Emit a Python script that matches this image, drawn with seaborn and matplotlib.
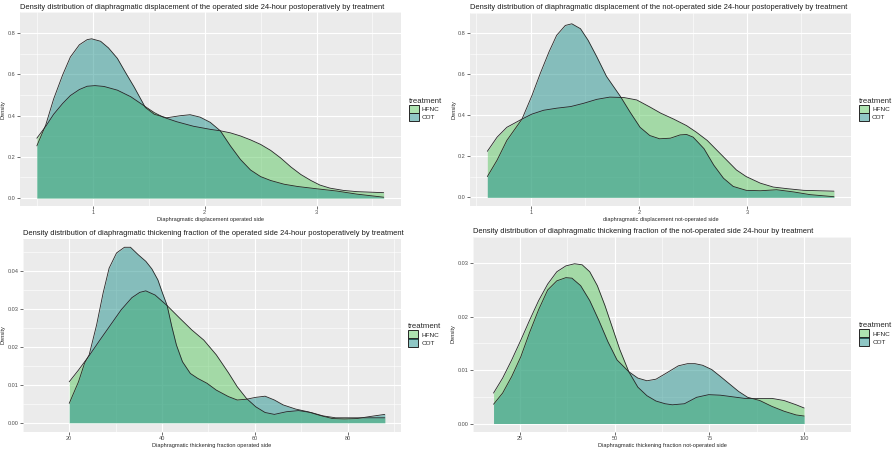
import matplotlib
matplotlib.use("Agg")
import matplotlib.pyplot as plt
import seaborn as sns
from matplotlib.patches import Patch
from matplotlib.colors import to_rgba

# ==========================================
# DATA (density curves)
# ==========================================
treatments = ["HFNC", "COT"]
fill_colors = {"HFNC": "#5DC863", "COT": "#21918C"}

# top-left: displacement, operated side
tl_hfnc_x = [0.50, 0.58, 0.65, 0.73, 0.80, 0.88, 0.95, 1.02, 1.10, 1.22, 1.34, 1.47, 1.55, 1.63, 1.75, 1.90,
             2.05, 2.14, 2.23, 2.32, 2.41, 2.50, 2.59, 2.68, 2.77, 2.86, 2.95, 3.03, 3.12, 3.24, 3.36, 3.60]
tl_hfnc_y = [0.290, 0.348, 0.406, 0.458, 0.497, 0.526, 0.542, 0.545, 0.541, 0.523, 0.491, 0.443, 0.414, 0.392,
             0.370, 0.348, 0.333, 0.326, 0.316, 0.301, 0.282, 0.260, 0.231, 0.194, 0.151, 0.114, 0.085, 0.063,
             0.048, 0.037, 0.031, 0.026]
tl_cot_x = [0.50, 0.58, 0.65, 0.73, 0.80, 0.88, 0.95, 0.99, 1.07, 1.14, 1.22, 1.29, 1.37, 1.47, 1.55, 1.66,
            1.78, 1.87, 1.96, 2.05, 2.14, 2.23, 2.32, 2.41, 2.50, 2.59, 2.71, 2.83, 3.00, 3.18, 3.36, 3.60]
tl_cot_y = [0.253, 0.355, 0.480, 0.596, 0.684, 0.743, 0.768, 0.772, 0.760, 0.728, 0.677, 0.611, 0.538, 0.439,
            0.406, 0.389, 0.399, 0.404, 0.392, 0.367, 0.326, 0.253, 0.187, 0.136, 0.104, 0.085, 0.067, 0.056,
            0.045, 0.034, 0.019, 0.004]

# top-right: displacement, not-operated side
tr_hfnc_x = [0.60, 0.69, 0.78, 0.92, 1.01, 1.12, 1.24, 1.37, 1.49, 1.61, 1.73, 1.86, 1.98, 2.10, 2.20, 2.32,
             2.44, 2.53, 2.63, 2.72, 2.81, 2.90, 2.99, 3.12, 3.24, 3.37, 3.52, 3.80]
tr_hfnc_y = [0.224, 0.293, 0.341, 0.381, 0.405, 0.424, 0.434, 0.442, 0.458, 0.477, 0.488, 0.486, 0.474, 0.440,
             0.410, 0.381, 0.349, 0.317, 0.277, 0.229, 0.181, 0.133, 0.101, 0.069, 0.050, 0.042, 0.034, 0.030]
tr_cot_x = [0.60, 0.69, 0.78, 0.92, 1.01, 1.09, 1.17, 1.24, 1.32, 1.38, 1.46, 1.53, 1.61, 1.70, 1.83, 1.92,
            2.01, 2.10, 2.19, 2.29, 2.38, 2.44, 2.50, 2.60, 2.69, 2.78, 2.87, 2.99, 3.12, 3.27, 3.43, 3.58, 3.80]
tr_cot_y = [0.101, 0.181, 0.277, 0.381, 0.493, 0.605, 0.709, 0.789, 0.837, 0.845, 0.821, 0.765, 0.685, 0.589,
            0.490, 0.413, 0.341, 0.301, 0.285, 0.288, 0.304, 0.306, 0.293, 0.237, 0.157, 0.093, 0.053, 0.034,
            0.032, 0.037, 0.026, 0.013, 0.003]

# bottom-left: thickening fraction, operated side
bl_hfnc_x = [20.0, 22.0, 24.3, 26.6, 28.9, 31.2, 33.5, 35.2, 36.5, 38.5, 41.1, 43.8, 46.4, 49.0, 51.7, 54.3,
             56.2, 58.2, 60.2, 62.2, 64.2, 66.8, 69.4, 72.1, 74.7, 77.4, 80.0, 82.6, 85.3, 88.0]
bl_hfnc_y = [0.0108, 0.0139, 0.0177, 0.0218, 0.0258, 0.0298, 0.0330, 0.0344, 0.0348, 0.0337, 0.0309, 0.0276,
             0.0245, 0.0218, 0.0179, 0.0132, 0.0095, 0.0064, 0.0042, 0.0027, 0.0022, 0.0029, 0.0032, 0.0027,
             0.0018, 0.0013, 0.0013, 0.0013, 0.0013, 0.0013]
bl_cot_x = [20.0, 22.0, 23.3, 24.3, 25.9, 27.3, 28.6, 30.2, 31.9, 33.2, 34.9, 36.5, 37.8, 39.1, 40.1, 41.1,
            42.1, 43.1, 44.4, 46.1, 47.7, 49.7, 51.7, 54.3, 56.2, 58.2, 60.2, 62.2, 64.2, 66.1, 68.8, 71.4,
            74.1, 76.7, 79.3, 82.0, 84.6, 88.0]
bl_cot_y = [0.0051, 0.0108, 0.0157, 0.0179, 0.0258, 0.0342, 0.0408, 0.0448, 0.0463, 0.0463, 0.0443, 0.0426,
            0.0406, 0.0377, 0.0342, 0.0309, 0.0254, 0.0205, 0.0161, 0.0130, 0.0117, 0.0104, 0.0086, 0.0069,
            0.0060, 0.0062, 0.0067, 0.0070, 0.0060, 0.0047, 0.0036, 0.0029, 0.0019, 0.0011, 0.0010, 0.0011,
            0.0016, 0.0022]

# bottom-right: thickening fraction, not-operated side
br_hfnc_x = [18.0, 20.4, 22.8, 25.2, 27.5, 29.9, 32.3, 34.7, 37.1, 39.4, 41.4, 43.4, 45.4, 47.4, 49.4, 51.3,
             53.7, 56.1, 58.5, 60.9, 63.3, 65.2, 68.4, 71.6, 74.8, 77.9, 81.1, 84.3, 88.3, 91.5, 94.7, 97.9, 100.0]
br_hfnc_y = [0.0057, 0.0085, 0.0119, 0.0156, 0.0193, 0.0230, 0.0261, 0.0284, 0.0295, 0.0299, 0.0297, 0.0284,
             0.0258, 0.0221, 0.0179, 0.0139, 0.0097, 0.0068, 0.0052, 0.0042, 0.0037, 0.0035, 0.0037, 0.0049,
             0.0054, 0.0053, 0.0050, 0.0047, 0.0047, 0.0047, 0.0043, 0.0035, 0.0029]
br_cot_x = [18.0, 20.4, 22.8, 25.2, 27.5, 29.9, 32.3, 34.7, 37.1, 38.7, 41.0, 43.4, 45.8, 48.2, 50.6, 53.7,
            56.1, 58.5, 60.9, 63.3, 66.8, 69.2, 71.2, 73.2, 75.6, 77.9, 80.3, 82.7, 85.1, 88.3, 91.5, 94.7,
            97.9, 100.0]
br_cot_y = [0.0036, 0.0057, 0.0088, 0.0125, 0.0170, 0.0213, 0.0250, 0.0267, 0.0273, 0.0272, 0.0258, 0.0230,
            0.0193, 0.0153, 0.0119, 0.0097, 0.0085, 0.0080, 0.0083, 0.0093, 0.0108, 0.0112, 0.0112, 0.0109,
            0.0101, 0.0088, 0.0074, 0.0060, 0.0049, 0.0043, 0.0032, 0.0023, 0.0016, 0.0014]

titles = [
    "Density distribution of diaphragmatic displacement of the operated side 24-hour postoperatively by treatment",
    "Density distribution of diaphragmatic displacement of the not-operated side 24-hour postoperatively by treatment",
    "Density distribution of diaphragmatic thickening fraction of the operated side 24-hour postoperatively by treatment",
    "Density distribution of diaphragmatic thickening fraction of the not-operated side 24-hour by treatment",
]
xlabels = [
    "Diaphragmatic displacement operated side",
    "diaphragmatic displacement not-operated side",
    "Diaphragmatic thickening fraction operated side",
    "Diaphragmatic thickening fraction not-operated side",
]
xticks_list = [[1, 2, 3], [1, 2, 3], [20, 40, 60, 80], [25, 50, 75, 100]]
yticks_list = [[0.0, 0.2, 0.4, 0.6, 0.8], [0.0, 0.2, 0.4, 0.6, 0.8],
               [0.00, 0.01, 0.02, 0.03, 0.04], [0.00, 0.01, 0.02, 0.03]]
yfmt_list = ["{:.1f}", "{:.1f}", "{:.2f}", "{:.2f}"]

# ==========================================
# STYLE (ggplot grey look)
# ==========================================
sns.set_theme(style="darkgrid", rc={
    "axes.facecolor": "#EBEBEB",
    "grid.color": "white",
    "axes.edgecolor": "#EBEBEB",
})
plt.rcParams["font.family"] = ["Liberation Sans", "DejaVu Sans"]

W, H = 893, 450
fig = plt.figure(figsize=(W / 100, H / 100), dpi=100)
fig.patch.set_facecolor("white")


def box(l, r, t, b):
    return [l / W, 1 - b / H, (r - l) / W, (b - t) / H]


positions = [box(19.5, 401, 12.4, 206), box(470, 851.3, 12.5, 206),
             box(22.8, 400.6, 238.5, 431.5), box(472.7, 851.5, 236.5, 431.5)]

panels = [
    (tl_hfnc_x, tl_hfnc_y, tl_cot_x, tl_cot_y),
    (tr_hfnc_x, tr_hfnc_y, tr_cot_x, tr_cot_y),
    (bl_hfnc_x, bl_hfnc_y, bl_cot_x, bl_cot_y),
    (br_hfnc_x, br_hfnc_y, br_cot_x, br_cot_y),
]

for i, (hx, hy, cx, cy) in enumerate(panels):
    ax = fig.add_axes(positions[i])
    curves = {"HFNC": (hx, hy), "COT": (cx, cy)}

    # fill + outline for each group (HFNC first, COT drawn on top)
    for t in treatments:
        x, y = curves[t]
        ax.fill_between(x, y, 0, color=fill_colors[t], alpha=0.5, lw=0, zorder=2)
        sns.lineplot(x=x, y=y, ax=ax, color="#262626", lw=0.6, zorder=3)

    # ggplot style 5% expansion
    xmin, xmax = min(hx + cx), max(hx + cx)
    ymax = max(hy + cy)
    ax.set_xlim(xmin - 0.05 * (xmax - xmin), xmax + 0.05 * (xmax - xmin))
    ax.set_ylim(-0.05 * ymax, ymax * 1.05)

    xt = xticks_list[i]
    yt = yticks_list[i]
    ax.set_xticks(xt)
    ax.set_yticks(yt)
    ax.set_yticklabels([yfmt_list[i].format(v) for v in yt])
    step_x = xt[1] - xt[0]
    step_y = yt[1] - yt[0]
    ax.set_xticks([xt[0] - step_x / 2] + [v + step_x / 2 for v in xt], minor=True)
    ax.set_yticks([v + step_y / 2 for v in yt], minor=True)
    ax.grid(which="major", color="white", lw=0.8)
    ax.grid(which="minor", color="white", lw=0.4)
    ax.tick_params(which="major", length=2, width=0.5, color="#333333",
                   labelsize=4.0, labelcolor="#4D4D4D", pad=1, bottom=True, left=True)
    ax.tick_params(which="minor", length=0)
    for s in ax.spines.values():
        s.set_visible(False)

    ax.set_title(titles[i], loc="left", fontsize=5.4, pad=2.5, color="#1a1a1a")
    ax.set_xlabel(xlabels[i], fontsize=4.1, labelpad=1.5)
    ax.set_ylabel("Density", fontsize=4.1, labelpad=1.2)

    handles = [Patch(facecolor=to_rgba(fill_colors[t], 0.5), edgecolor="#262626", lw=0.7) for t in treatments]
    ax.legend(handles, treatments, title="treatment", loc="center left", bbox_to_anchor=(1.02, 0.5),
              frameon=False, fontsize=4.6, title_fontsize=5.6, handlelength=1.55, handleheight=1.55,
              labelspacing=0.0, handletextpad=0.5, borderpad=0, borderaxespad=0, alignment="left")

fig.savefig("out.png", dpi=100)
